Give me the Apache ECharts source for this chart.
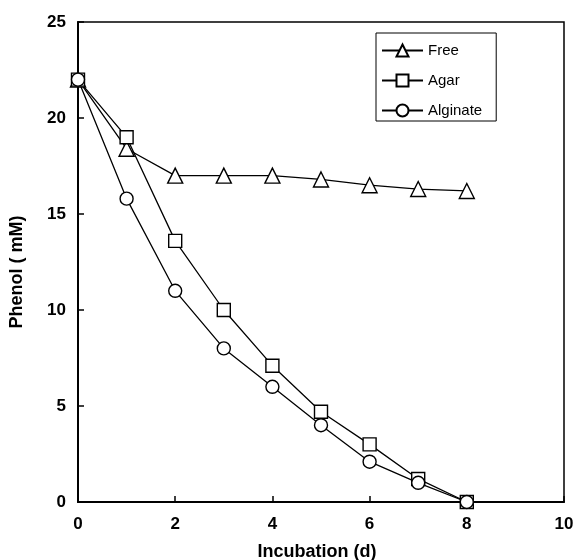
<!DOCTYPE html>
<html>
<head>
<meta charset="utf-8">
<script src="https://cdn.jsdelivr.net/npm/echarts@6/dist/echarts.min.js"></script>
<style>html,body{margin:0;padding:0;background:#fff;}#c{width:576px;height:560px;}</style>
</head>
<body>
<div id="c"></div>
<script>
const days = [0, 1, 2, 3, 4, 5, 6, 7, 8];
const freeVals = [22, 18.4, 17, 17, 17, 16.8, 16.5, 16.3, 16.2];
const agarVals = [22, 19, 13.6, 10, 7.1, 4.7, 3.0, 1.2, 0];
const alginateVals = [22, 15.8, 11, 8, 6, 4.0, 2.1, 1.0, 0];
const seriesNames = ['Free', 'Agar', 'Alginate'];
const xTitle = 'Incubation (d)';
const yTitle = 'Phenol ( mM)';

function pairs(v) { return days.map((d, i) => [d, v[i]]); }

const font = 'Liberation Sans, Arial, Helvetica, sans-serif';
const chart = echarts.init(document.getElementById('c'), null, { renderer: 'canvas' });

function mk(name, vals, symbol, size) {
  return {
    name: name, type: 'line', data: pairs(vals),
    symbol: symbol, symbolSize: size,
    lineStyle: { color: '#000', width: 1.3 },
    itemStyle: { color: '#fff', borderColor: '#000', borderWidth: 1.4 },
    emphasis: { disabled: true },
    animation: false
  };
}

chart.setOption({
  animation: false,
  backgroundColor: '#fff',
  grid: { left: 78, right: 12, top: 22, bottom: 58, show: true, borderColor: '#000', borderWidth: 1.5, backgroundColor: 'transparent', containLabel: false, outerBoundsMode: 'none' },
  legend: {
    left: 376, top: 33, orient: 'vertical',
    padding: [10, 14, 3, 5],
    itemGap: 15,
    itemWidth: 41, itemHeight: 15,
    borderColor: '#000', borderWidth: 1,
    textStyle: { fontFamily: font, fontSize: 15, color: '#000' },
    data: seriesNames
  },
  xAxis: {
    type: 'value', min: 0, max: 10, interval: 2,
    name: xTitle, nameLocation: 'middle', nameGap: 41,
    nameTextStyle: { fontFamily: font, fontSize: 18, fontWeight: 'bold', color: '#000', padding: [0, 8, 0, 0] },
    axisLine: { lineStyle: { color: '#000', width: 2 } },
    axisTick: { inside: true, length: 6, lineStyle: { color: '#000', width: 1.5 } },
    axisLabel: { fontFamily: font, fontSize: 17, fontWeight: 'bold', color: '#000', margin: 14 },
    splitLine: { show: false }
  },
  yAxis: {
    type: 'value', min: 0, max: 25, interval: 5,
    name: yTitle, nameLocation: 'middle', nameGap: 52, nameRotate: 90,
    nameTextStyle: { fontFamily: font, fontSize: 18, fontWeight: 'bold', color: '#000', padding: [0, 20, 0, 0] },
    axisLine: { lineStyle: { color: '#000', width: 2 } },
    axisTick: { inside: true, length: 6, lineStyle: { color: '#000', width: 1.5 } },
    axisLabel: { fontFamily: font, fontSize: 17, fontWeight: 'bold', color: '#000', margin: 12 },
    splitLine: { show: false }
  },
  series: [
    mk(seriesNames[0], freeVals, 'triangle', 15),
    mk(seriesNames[1], agarVals, 'rect', 13),
    mk(seriesNames[2], alginateVals, 'circle', 13)
  ]
});
</script>
</body>
</html>
